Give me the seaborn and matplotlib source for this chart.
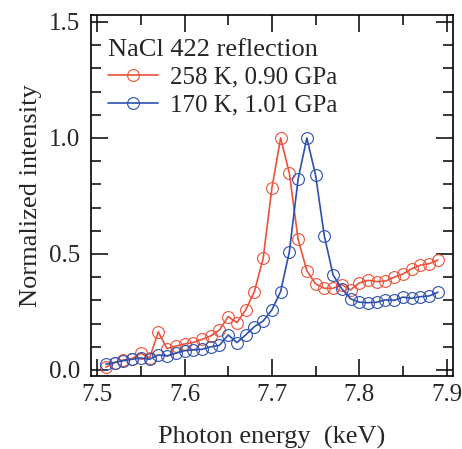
import numpy as np
import pandas as pd
import seaborn as sns
import matplotlib.pyplot as plt
from matplotlib.ticker import MultipleLocator

# photon energy grid (keV)
energy = [7.51, 7.52, 7.53, 7.54, 7.55, 7.56, 7.57, 7.58, 7.59, 7.60,
          7.61, 7.62, 7.63, 7.64, 7.65, 7.66, 7.67, 7.68, 7.69, 7.70,
          7.71, 7.72, 7.73, 7.74, 7.75, 7.76, 7.77, 7.78, 7.79, 7.80,
          7.81, 7.82, 7.83, 7.84, 7.85, 7.86, 7.87, 7.88, 7.89]

# 258 K, 0.90 GPa
int_258 = [0.012, 0.032, 0.043, 0.049, 0.072, 0.052, 0.164, 0.092, 0.103, 0.112,
           0.118, 0.132, 0.147, 0.172, 0.230, 0.204, 0.259, 0.338, 0.481, 0.783,
           1.000, 0.848, 0.563, 0.428, 0.371, 0.352, 0.352, 0.368, 0.345, 0.375,
           0.386, 0.381, 0.383, 0.400, 0.414, 0.436, 0.452, 0.458, 0.474]

# 170 K, 1.01 GPa
int_170 = [0.025, 0.032, 0.040, 0.046, 0.052, 0.046, 0.065, 0.060, 0.072, 0.083,
           0.086, 0.089, 0.100, 0.106, 0.151, 0.118, 0.151, 0.187, 0.211, 0.259,
           0.338, 0.510, 0.822, 1.000, 0.840, 0.578, 0.410, 0.350, 0.307, 0.292,
           0.290, 0.292, 0.302, 0.300, 0.314, 0.309, 0.316, 0.319, 0.335]

labels = ['258 K, 0.90 GPa', '170 K, 1.01 GPa']
colors = ['#EC5238', '#2C50B2']

sns.set_theme(style='ticks')
plt.rcParams['font.family'] = ['Liberation Serif', 'DejaVu Serif']

fig = plt.figure(figsize=(4.62, 4.49), dpi=100)
ax = fig.add_axes([0.197, 0.1626, 0.783, 0.804])

for y, lab, c in zip([int_258, int_170], labels, colors):
    df = pd.DataFrame({'energy': energy, 'intensity': y})
    sns.lineplot(data=df, x='energy', y='intensity', ax=ax, color=c, label=lab,
                 marker='o', markersize=8.5, markerfacecolor='none',
                 markeredgecolor=c, markeredgewidth=0.8, linewidth=1.2)

ax.set_xlim(7.493, 7.907)
ax.set_ylim(-0.026, 1.53)
ax.xaxis.set_major_locator(MultipleLocator(0.1))
ax.xaxis.set_minor_locator(MultipleLocator(0.05))
ax.yaxis.set_major_locator(MultipleLocator(0.5))
ax.yaxis.set_minor_locator(MultipleLocator(0.1))
ax.tick_params(which='both', direction='in', top=True, right=True,
               color='black', width=1.1, labelsize=18)
ax.tick_params(axis='y', pad=8)
ax.tick_params(axis='x', pad=6)
ax.tick_params(which='major', length=12)
ax.tick_params(which='minor', length=7)
for s in ax.spines.values():
    s.set_linewidth(1.2)
    s.set_color('black')

ax.set_xlabel('Photon energy  (keV)', fontsize=19, labelpad=14)
ax.set_ylabel('Normalized intensity', fontsize=19, labelpad=5)

leg = ax.legend(title='NaCl 422 reflection', loc='upper left', frameon=False,
                bbox_to_anchor=(-0.02, 1.0),
                fontsize=18, title_fontsize=19, handlelength=2.0,
                borderaxespad=0.55, labelspacing=0.22, handletextpad=0.5,
                alignment='left')

plt.savefig('out.png', dpi=100)
